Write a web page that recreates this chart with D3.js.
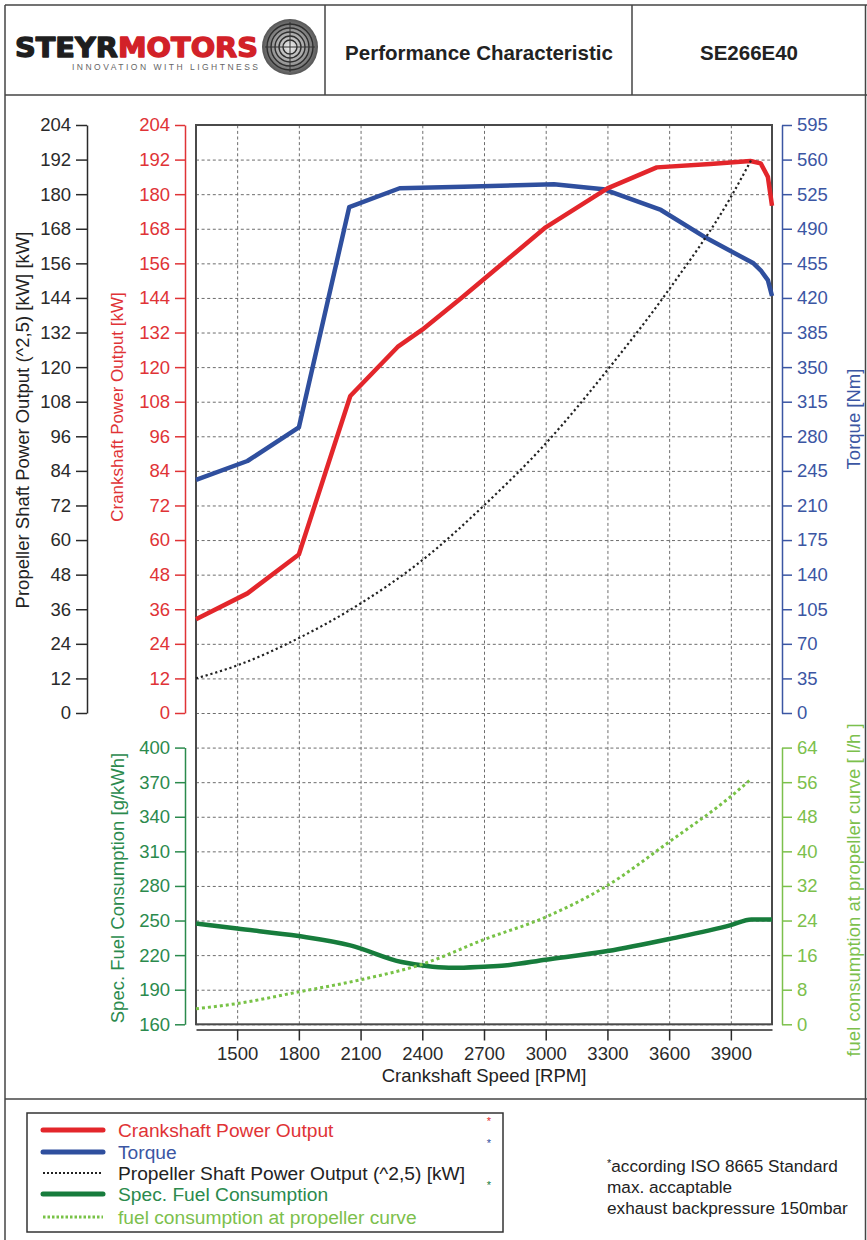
<!DOCTYPE html>
<html>
<head>
<meta charset="utf-8">
<script src="https://cdn.jsdelivr.net/npm/d3@7"></script>
<style>
  html, body { margin: 0; padding: 0; background: #fff; }
  svg { display: block; }
</style>
</head>
<body>
<svg id="chart" width="867" height="1240"></svg>
<script>
// ---------------- DATA ----------------
const xTickValues = [1500, 1800, 2100, 2400, 2700, 3000, 3300, 3600, 3900];
const kwTickValues = [0, 12, 24, 36, 48, 60, 72, 84, 96, 108, 120, 132, 144, 156, 168, 180, 192, 204];
const torqueTickValues = [0, 35, 70, 105, 140, 175, 210, 245, 280, 315, 350, 385, 420, 455, 490, 525, 560, 595];
const sfcTickValues = [160, 190, 220, 250, 280, 310, 340, 370, 400];
const fuelTickValues = [0, 8, 16, 24, 32, 40, 48, 56, 64];

const powerRpm = [1300, 1550, 1800, 2050, 2280, 2400, 2590, 3000, 3300, 3540, 3800, 3995, 4045, 4080, 4100];
const powerKw  = [32.5, 41.5, 55, 110, 127, 133, 144, 168.5, 182, 189.3, 190.5, 191.5, 190.7, 186, 176];

const torqueRpm = [1300, 1550, 1800, 2045, 2290, 2600, 3040, 3280, 3560, 3770, 4010, 4045, 4080, 4100];
const torqueNm  = [236, 255, 289, 512, 531, 532.5, 535, 530, 509, 482, 455, 448, 438, 422];

const propRpm = [1300, 1500, 1800, 2100, 2400, 2700, 3000, 3300, 3600, 3900, 4000];
const propKw  = [12, 16.5, 26, 38, 53, 72, 93.5, 119, 147, 179, 192];

const sfcRpm = [1300, 1500, 1800, 2050, 2300, 2450, 2550, 2700, 2800, 3000, 3300, 3600, 3900, 4000, 4100];
const sfcVal = [247.5, 243, 236.5, 228.5, 214, 210, 209, 210, 211, 216, 223.5, 234, 246, 251, 251];

const fuelRpm = [1300, 1500, 1800, 2100, 2400, 2700, 3000, 3300, 3600, 3900, 4000];
const fuelLh  = [3.6, 4.8, 7.5, 10.3, 13.9, 19.6, 24.8, 32.1, 42.2, 52.7, 56.8];

const legendLabels = [
  "Crankshaft Power Output",
  "Torque",
  "Propeller Shaft Power Output (^2,5) [kW]",
  "Spec. Fuel Consumption",
  "fuel consumption at propeller curve"
];
const noteLines = ["according ISO 8665 Standard", "max. accaptable", "exhaust backpressure 150mbar"];

// ---------------- STYLE / LAYOUT ----------------
const FONT = "'Liberation Sans', Arial, Helvetica, sans-serif";
const C = {
  red: "#e3262b", redText: "#e03336",
  blue: "#2f4f9e", blueText: "#3b56a3",
  black: "#222",
  green: "#177c3c", greenText: "#2b8a4d",
  lgreen: "#78c246", lgreenText: "#7cc04c",
  grid: "#6d6d6d", frame: "#4a4a4a"
};
const L = 196, R = 772, TOP = 125, ZERO = 713;
const ROW = (ZERO - TOP) / 17;
const B_TOP = ZERO + ROW, B_BOT = ZERO + 9 * ROW;

const svg = d3.select("#chart");

// scales
const x = d3.scaleLinear().domain([1300, 4100]).range([L, R]);
const yKw = d3.scaleLinear().domain([0, 204]).range([ZERO, TOP]);
const yTq = d3.scaleLinear().domain([0, 595]).range([ZERO, TOP]);
const ySfc = d3.scaleLinear().domain([160, 400]).range([B_BOT, B_TOP]);
const yFuel = d3.scaleLinear().domain([0, 64]).range([B_BOT, B_TOP]);

// ---------------- PAGE FRAME / HEADER ----------------
const frame = svg.append("g").attr("stroke", "#444").attr("stroke-width", 1.5).attr("fill", "none");
frame.append("line").attr("x1", 5).attr("y1", 5).attr("x2", 867).attr("y2", 5);
frame.append("line").attr("x1", 5).attr("y1", 5).attr("x2", 5).attr("y2", 1240);
frame.append("line").attr("x1", 865.5).attr("y1", 5).attr("x2", 865.5).attr("y2", 1240);
frame.append("line").attr("x1", 5).attr("y1", 95).attr("x2", 867).attr("y2", 95);
frame.append("line").attr("x1", 5).attr("y1", 1099).attr("x2", 867).attr("y2", 1099);
frame.append("line").attr("x1", 325).attr("y1", 5).attr("x2", 325).attr("y2", 95);
frame.append("line").attr("x1", 632).attr("y1", 5).attr("x2", 632).attr("y2", 95);

// logo
const logo = svg.append("g");
const lt = logo.append("text").attr("x", 15).attr("y", 57)
  .attr("font-family", "'DejaVu Sans', sans-serif").attr("font-weight", "bold")
  .attr("font-size", 27).attr("textLength", 243).attr("lengthAdjust", "spacingAndGlyphs")
  .attr("stroke-width", 1.3).attr("stroke-linejoin", "round");
lt.append("tspan").attr("fill", "#1e1e1e").attr("stroke", "#1e1e1e").text("STEYR");
lt.append("tspan").attr("fill", "#d22128").attr("stroke", "#d22128").text("MOTORS");
logo.append("text").attr("x", 72).attr("y", 70).attr("font-family", FONT)
  .attr("font-size", 8.5).attr("fill", "#666").attr("textLength", 186)
  .attr("lengthAdjust", "spacing").text("INNOVATION WITH LIGHTNESS");
const defs = svg.append("defs");
const rg = defs.append("radialGradient").attr("id", "emb");
rg.append("stop").attr("offset", "0%").attr("stop-color", "#eeeeee");
rg.append("stop").attr("offset", "60%").attr("stop-color", "#9a9a9a");
rg.append("stop").attr("offset", "100%").attr("stop-color", "#555");
logo.append("circle").attr("cx", 290).attr("cy", 47).attr("r", 28).attr("fill", "url(#emb)");
[23, 19, 15, 11, 7].forEach(r => logo.append("circle").attr("cx", 290).attr("cy", 47).attr("r", r)
  .attr("fill", "none").attr("stroke", "#2e2e2e").attr("stroke-width", 1.4));
logo.append("line").attr("x1", 290).attr("y1", 22).attr("x2", 290).attr("y2", 72).attr("stroke", "#333").attr("stroke-width", 1);
logo.append("line").attr("x1", 265).attr("y1", 47).attr("x2", 315).attr("y2", 47).attr("stroke", "#333").attr("stroke-width", 1);

svg.append("text").attr("x", 479).attr("y", 60).attr("text-anchor", "middle")
  .attr("font-family", FONT).attr("font-weight", "bold").attr("font-size", 20.5)
  .attr("fill", "#222").text("Performance Characteristic");
svg.append("text").attr("x", 749).attr("y", 60).attr("text-anchor", "middle")
  .attr("font-family", FONT).attr("font-weight", "bold").attr("font-size", 20.5)
  .attr("fill", "#222").text("SE266E40");

// ---------------- GRID ----------------
const grid = svg.append("g");
grid.append("g").attr("transform", `translate(${L},0)`)
  .call(d3.axisLeft(yKw).tickValues(kwTickValues).tickSize(-(R - L)).tickFormat(""))
  .call(g => g.select(".domain").remove());
grid.append("g").attr("transform", `translate(${L},0)`)
  .call(d3.axisLeft(ySfc).tickValues(sfcTickValues).tickSize(-(R - L)).tickFormat(""))
  .call(g => g.select(".domain").remove());
grid.append("g").attr("transform", `translate(0,${B_BOT})`)
  .call(d3.axisBottom(x).tickValues(xTickValues).tickSize(-(B_BOT - TOP)).tickFormat(""))
  .call(g => g.select(".domain").remove());
grid.selectAll("line").attr("stroke", C.grid).attr("stroke-width", 1).attr("stroke-dasharray", "3,2.6");

// plot frame
svg.append("rect").attr("x", L).attr("y", TOP).attr("width", R - L).attr("height", B_BOT - TOP)
  .attr("fill", "none").attr("stroke", C.frame).attr("stroke-width", 2);

// ---------------- AXES ----------------
function styleAxis(g, color) {
  g.select(".domain").attr("stroke", color).attr("stroke-width", 1.5);
  g.selectAll(".tick line").attr("stroke", color).attr("stroke-width", 1.5);
  g.selectAll(".tick text").attr("fill", color).attr("font-family", FONT).attr("font-size", 18.5);
}
const fmt = d3.format("d");
svg.append("g").attr("transform", "translate(87,0)")
  .call(d3.axisLeft(yKw).tickValues(kwTickValues).tickFormat(fmt).tickSize(11).tickSizeOuter(0).tickPadding(5))
  .call(g => styleAxis(g, "#2a2a2a"));
svg.append("g").attr("transform", "translate(185,0)")
  .call(d3.axisLeft(yKw).tickValues(kwTickValues).tickFormat(fmt).tickSize(10).tickSizeOuter(0).tickPadding(5))
  .call(g => styleAxis(g, C.redText));
svg.append("g").attr("transform", "translate(185,0)")
  .call(d3.axisLeft(ySfc).tickValues(sfcTickValues).tickFormat(fmt).tickSize(10).tickSizeOuter(0).tickPadding(5))
  .call(g => styleAxis(g, C.greenText));
svg.append("g").attr("transform", "translate(782,0)")
  .call(d3.axisRight(yTq).tickValues(torqueTickValues).tickFormat(fmt).tickSize(10).tickSizeOuter(0).tickPadding(5))
  .call(g => styleAxis(g, C.blueText));
svg.append("g").attr("transform", "translate(782,0)")
  .call(d3.axisRight(yFuel).tickValues(fuelTickValues).tickFormat(fmt).tickSize(10).tickSizeOuter(0).tickPadding(5))
  .call(g => styleAxis(g, C.lgreenText));
svg.append("g").attr("transform", "translate(0,1029.5)")
  .call(d3.axisBottom(x).tickValues(xTickValues).tickFormat(fmt).tickSize(11).tickSizeOuter(0).tickPadding(6))
  .call(g => styleAxis(g, "#2a2a2a"));

// axis titles
function vTitle(xp, yp, txt, color, size) {
  svg.append("text").attr("transform", `translate(${xp},${yp}) rotate(-90)`)
    .attr("text-anchor", "middle").attr("dominant-baseline", "central")
    .attr("font-family", FONT).attr("font-size", size).attr("fill", color).text(txt);
}
vTitle(22, 420, "Propeller Shaft Power Output (^2,5) [kW] [kW]", "#222", 18.5);
vTitle(117, 407, "Crankshaft Power Output [kW]", C.redText, 17);
vTitle(853, 419, "Torque [Nm]", C.blueText, 18.5);
vTitle(117, 888, "Spec. Fuel Consumption [g/kWh]", C.greenText, 18.5);
vTitle(853, 890, "fuel consumption at propeller curve [ l/h ]", C.lgreenText, 18.5);
svg.append("text").attr("x", 484).attr("y", 1082).attr("text-anchor", "middle")
  .attr("font-family", FONT).attr("font-size", 18.5).attr("fill", "#222").text("Crankshaft Speed [RPM]");

// ---------------- SERIES ----------------
const zip = (a, b) => a.map((v, i) => [v, b[i]]);
const plot = svg.append("g");
plot.append("path").datum(zip(torqueRpm, torqueNm))
  .attr("d", d3.line().x(d => x(d[0])).y(d => yTq(d[1])))
  .attr("fill", "none").attr("stroke", C.blue).attr("stroke-width", 4.5).attr("stroke-linejoin", "round");
plot.append("path").datum(zip(powerRpm, powerKw))
  .attr("d", d3.line().x(d => x(d[0])).y(d => yKw(d[1])))
  .attr("fill", "none").attr("stroke", C.red).attr("stroke-width", 4.5).attr("stroke-linejoin", "round");
plot.append("path").datum(zip(propRpm, propKw))
  .attr("d", d3.line().curve(d3.curveMonotoneX).x(d => x(d[0])).y(d => yKw(d[1])))
  .attr("fill", "none").attr("stroke", "#222").attr("stroke-width", 2.2).attr("stroke-dasharray", "2.2,2.8");
plot.append("path").datum(zip(sfcRpm, sfcVal))
  .attr("d", d3.line().curve(d3.curveMonotoneX).x(d => x(d[0])).y(d => ySfc(d[1])))
  .attr("fill", "none").attr("stroke", C.green).attr("stroke-width", 4.5).attr("stroke-linejoin", "round");
plot.append("path").datum(zip(fuelRpm, fuelLh))
  .attr("d", d3.line().curve(d3.curveMonotoneX).x(d => x(d[0])).y(d => yFuel(d[1])))
  .attr("fill", "none").attr("stroke", C.lgreen).attr("stroke-width", 3).attr("stroke-dasharray", "3,3");

// ---------------- LEGEND ----------------
const lg = svg.append("g");
lg.append("rect").attr("x", 27).attr("y", 1113).attr("width", 476).attr("height", 119)
  .attr("fill", "#fff").attr("stroke", "#333").attr("stroke-width", 1.5);
const legendStyles = [
  { stroke: C.red, w: 5, dash: null, text: C.redText, star: true },
  { stroke: C.blue, w: 5, dash: null, text: C.blueText, star: true },
  { stroke: "#222", w: 2, dash: "2,2", text: "#222", star: false },
  { stroke: C.green, w: 5, dash: null, text: C.greenText, star: true },
  { stroke: C.lgreen, w: 3, dash: "2.5,2", text: C.lgreenText, star: false }
];
const legendY = [1130, 1152, 1173, 1194, 1217];
legendLabels.forEach((lab, i) => {
  const s = legendStyles[i];
  const ln = lg.append("line").attr("x1", 43).attr("x2", 103).attr("y1", legendY[i]).attr("y2", legendY[i])
    .attr("stroke", s.stroke).attr("stroke-width", s.w).attr("stroke-linecap", s.dash ? "butt" : "round");
  if (s.dash) ln.attr("stroke-dasharray", s.dash);
  lg.append("text").attr("x", 118).attr("y", legendY[i]).attr("dominant-baseline", "central")
    .attr("font-family", FONT).attr("font-size", 19.2).attr("fill", s.text).text(lab);
  if (s.star) lg.append("text").attr("x", 489).attr("y", legendY[i] - 5).attr("text-anchor", "middle")
    .attr("font-family", FONT).attr("font-size", 11).attr("fill", s.stroke).text("*");
});
const noteY = [1172, 1193, 1214];
noteLines.forEach((t, i) => {
  const tx = svg.append("text").attr("x", 607).attr("y", noteY[i])
    .attr("font-family", FONT).attr("font-size", 17.2).attr("fill", "#222");
  if (i === 0) tx.append("tspan").attr("font-size", 11).attr("dy", -5).text("*");
  tx.append("tspan").attr("dy", i === 0 ? 5 : 0).text(t);
});
</script>
</body>
</html>
